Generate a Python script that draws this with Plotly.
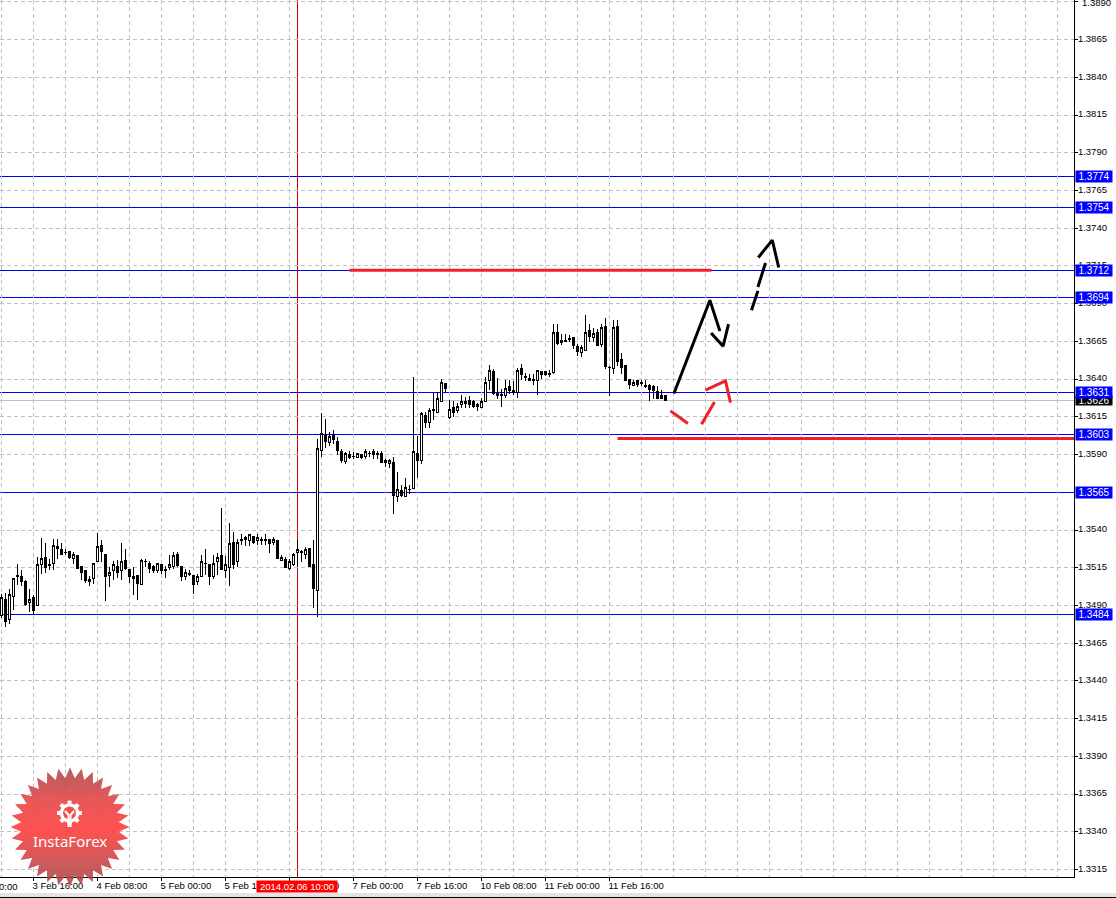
import math
import plotly.graph_objects as go

# EURUSD-style H1 candles, prices in 1e-5 units
opens = [134836,134939,134807,134957,135098,135094,135057,134917,134953,134897,135174,135218,135174,135178,135293,135271,135253,135258,135209,135233,
135160,135134,135057,135079,135191,135300,135240,135096,135129,135160,135129,135200,135140,135079,135101,135037,135193,135178,135160,135129,
135174,135138,135152,135160,135240,135160,135090,135110,135101,135057,135094,135180,135174,135090,135189,135231,135129,135152,135317,135189,
135335,135350,135330,135355,135328,135337,135335,135337,135317,135333,135198,135207,135147,135174,135249,135260,135235,135280,135174,134997,
135925,136029,135978,136029,135989,135923,135857,135901,135890,135879,135901,135885,135910,135921,135910,135907,135863,135839,135848,135620,
135664,135620,135671,135678,135907,135859,136162,136111,136199,136179,136254,136371,136146,136212,136190,136230,136237,136261,136254,136234,
136210,136250,136389,136453,136302,136296,136293,136353,136322,136309,136470,136419,136402,136397,136388,136452,136452,136439,136446,136707,
136654,136658,136669,136678,136616,136576,136592,136722,136673,136709,136631,136748,136479,136470,136751,136530,136490,136397,136358,136393,
136380,136360,136358,136351,136320,136293,136291]
highs = [134975,134984,135012,135079,135178,135138,135072,135012,134968,135222,135350,135311,135211,135344,135344,135315,135277,135258,135255,135233,
135160,135134,135094,135178,135381,135337,135240,135152,135196,135200,135311,135277,135145,135152,135101,135211,135205,135196,135167,135178,
135174,135160,135233,135255,135255,135160,135145,135134,135101,135107,135233,135277,135174,135233,135249,135543,135227,135450,135388,135344,
135372,135359,135370,135355,135377,135355,135377,135337,135355,135337,135233,135222,135211,135249,135333,135271,135288,135280,135337,136002,
136179,136139,136049,136062,136014,135934,135919,135923,135919,135910,135907,135936,135925,135934,135925,135925,135868,135874,135881,135782,
135698,135748,135698,136411,136022,136184,136184,136206,136305,136312,136398,136376,136261,136254,136239,136294,136283,136287,136265,136243,
136272,136416,136497,136464,136405,136335,136397,136397,136388,136477,136499,136441,136433,136437,136459,136452,136455,136459,136768,136768,
136702,136702,136691,136680,136636,136625,136824,136764,136740,136735,136768,136802,136486,136790,136790,136570,136492,136399,136393,136397,
136393,136397,136371,136360,136353,136327,136291]
lows = [134814,134758,134780,134873,135034,135028,134895,134858,134842,134897,135112,135116,135134,135134,135211,135233,135233,135205,135174,135143,
135072,135050,135028,135045,135189,135189,134931,135023,135072,135085,135072,135134,135050,134968,134935,135037,135152,135116,135116,135116,
135107,135085,135138,135145,135152,135063,135068,135094,134975,135034,135090,135101,135034,135079,135101,135134,135085,135030,135145,135152,
135300,135293,135293,135306,135300,135300,135300,135249,135300,135209,135196,135149,135134,135160,135152,135191,135205,135152,134886,134821,
135885,135945,135958,135967,135896,135846,135841,135872,135874,135877,135870,135868,135881,135874,135874,135846,135815,135808,135505,135587,
135620,135620,135642,135669,135748,135841,136078,136078,136128,136179,136254,136316,136139,136150,136177,136210,136210,136210,136210,136190,
136206,136250,136327,136294,136271,136216,136278,136304,136293,136276,136393,136386,136391,136360,136293,136404,136419,136413,136433,136625,
136625,136647,136647,136603,136554,136547,136592,136647,136647,136620,136614,136470,136287,136433,136488,136437,136386,136338,136353,136349,
136353,136344,136256,136271,136267,136267,136256]
closes = [134953,134791,134973,135079,135090,135057,134909,134939,134864,135174,135211,135152,135165,135297,135275,135235,135249,135216,135240,135147,
135116,135068,135072,135178,135293,135258,135090,135118,135169,135116,135193,135145,135090,135094,135045,135200,135189,135147,135134,135178,
135134,135129,135174,135233,135167,135094,135118,135105,135041,135094,135193,135176,135094,135178,135218,135138,135174,135311,135174,135319,
135330,135337,135370,135315,135350,135328,135330,135311,135337,135209,135218,135154,135191,135240,135271,135251,135271,135156,135010,135942,
136040,135985,136022,135998,135925,135863,135907,135879,135885,135907,135879,135921,135905,135899,135899,135846,135846,135859,135627,135669,
135629,135682,135667,135923,135863,136173,136115,136192,136190,136272,136378,136338,136199,136177,136219,136252,136254,136234,136217,136217,
136252,136378,136460,136305,136291,136289,136338,136327,136313,136455,136428,136408,136393,136391,136455,136433,136433,136428,136709,136636,
136645,136651,136662,136625,136585,136609,136709,136684,136704,136625,136744,136486,136475,136742,136514,136475,136391,136366,136380,136366,
136371,136349,136333,136327,136271,136271,136256]
PRICE_UNIT = 1e-5

level_values = [1.3774, 1.3754, 1.3712, 1.3694, 1.3631, 1.3603, 1.3565, 1.3484]
level_labels = ["1.3774", "1.3754", "1.3712", "1.3694", "1.3631", "1.3603", "1.3565", "1.3484"]
bid_value = 1.3626
bid_label = "1.3626"

price_ticks = [1.3890, 1.3865, 1.3840, 1.3815, 1.3790, 1.3765, 1.3740, 1.3715, 1.3690, 1.3665, 1.3640, 1.3615,
               1.3590, 1.3540, 1.3515, 1.3490, 1.3465, 1.3440, 1.3415, 1.3390, 1.3365, 1.3340, 1.3315]
top_price_label = "1.3890"
time_ticks = [8, 24, 40, 56, 72, 88, 104, 120, 136, 152]
time_labels = ["3 Feb 16:00", "4 Feb 08:00", "5 Feb 00:00", "5 Feb 16:00", "6 Feb 08:00", "7 Feb 00:00",
               "7 Feb 16:00", "10 Feb 08:00", "11 Feb 00:00", "11 Feb 16:00"]
crosshair_bar = 74
crosshair_label = "2014.02.06 10:00"
logo_text = "InstaForex"

# hand-drawn marks on the chart: (bar position, price)
red_rule_x = [[87, 177.5], [154, 268.125]]
red_rule_y = [[1.37122, 1.37122], [1.36007, 1.36007]]
black_x = [[168.1, 177.1, 179.6], [177.4, 180.4, 181.75], [187.5, 189.1], [189.1, 191.0], [189.2, 192.7, 194.3]]
black_y = [[1.36305, 1.36923, 1.36718], [1.36706, 1.36618, 1.36764], [1.36857, 1.36985], [1.37011, 1.3717],
           [1.37206, 1.37321, 1.3714]]
red_x = [[167.25, 171.6], [175.0, 178.25], [176.0, 181.0, 182.25]]
red_y = [[1.3619, 1.36106], [1.36101, 1.36249], [1.36327, 1.36388, 1.36245]]

W, H = 1116, 898
PLOT_R, PLOT_B = 1074, 877
FONT = "Liberation Sans"

fig = go.Figure()
xs = list(range(len(opens)))
fig.add_trace(go.Candlestick(
    x=xs,
    open=[v * PRICE_UNIT for v in opens], high=[v * PRICE_UNIT for v in highs],
    low=[v * PRICE_UNIT for v in lows], close=[v * PRICE_UNIT for v in closes],
    increasing=dict(line=dict(color="#000000", width=1), fillcolor="#ffffff"),
    decreasing=dict(line=dict(color="#000000", width=1), fillcolor="#000000"),
    whiskerwidth=0, showlegend=False, hoverinfo="skip",
))
for xv, yv in zip(red_rule_x, red_rule_y):
    fig.add_trace(go.Scatter(x=xv, y=yv, mode="lines", line=dict(color="#ee2028", width=3), showlegend=False, hoverinfo="skip"))
for xv, yv in zip(black_x, black_y):
    fig.add_trace(go.Scatter(x=xv, y=yv, mode="lines", line=dict(color="#000000", width=3), showlegend=False, hoverinfo="skip"))
for xv, yv in zip(red_x, red_y):
    fig.add_trace(go.Scatter(x=xv, y=yv, mode="lines", line=dict(color="#ee2028", width=3), showlegend=False, hoverinfo="skip"))

# logo drawn on a full-window helper axis pair
cx, cy, r_out, r_in, teeth = 70, 827, 59.5, 49, 32
star_x, star_y = [], []
for k in range(teeth * 2 + 1):
    a = math.pi * k / teeth
    r = r_out if k % 2 == 0 else r_in
    star_x.append(cx + r * math.sin(a))
    star_y.append(cy - r * math.cos(a))
fig.add_trace(go.Scatter(
    x=star_x, y=star_y, xaxis="x2", yaxis="y2", mode="lines", fill="toself", line=dict(width=0),
    fillgradient=dict(type="vertical", colorscale=[[0, "rgba(170,60,60,0.85)"], [0.15, "rgba(190,70,70,0.88)"],
                                                   [0.48, "rgba(255,72,72,0.95)"], [0.75, "rgba(225,70,70,0.9)"],
                                                   [1, "rgba(165,55,55,0.8)"]]),
    showlegend=False, hoverinfo="skip",
))
gx, gy = 69.5, 813
gear_x, gear_y = [], []
for k in range(0, 361, 3):
    a = math.radians(k)
    r = 12.5 if math.cos(8 * a) > 0 else 9.8
    gear_x.append(gx + r * math.sin(a))
    gear_y.append(gy - r * math.cos(a))
fig.add_trace(go.Scatter(x=gear_x, y=gear_y, xaxis="x2", yaxis="y2", mode="lines", fill="toself",
                         line=dict(width=0), fillcolor="#ffffff", showlegend=False, hoverinfo="skip"))
hole_x = [gx + 6.5 * math.sin(math.radians(k)) for k in range(0, 361, 10)]
hole_y = [gy - 6.5 * math.cos(math.radians(k)) for k in range(0, 361, 10)]
fig.add_trace(go.Scatter(x=hole_x, y=hole_y, xaxis="x2", yaxis="y2", mode="lines", fill="toself",
                         line=dict(width=0), fillcolor="#f25050", showlegend=False, hoverinfo="skip"))
fig.add_trace(go.Scatter(x=[gx - 4.5, gx - 1, gx - 1], y=[gy - 2, gy + 2, gy + 14], xaxis="x2", yaxis="y2", mode="lines",
                         line=dict(color="#ffffff", width=2), showlegend=False, hoverinfo="skip"))
fig.add_trace(go.Scatter(x=[gx + 4.5, gx + 1, gx + 1], y=[gy - 2, gy + 2, gy + 14], xaxis="x2", yaxis="y2", mode="lines",
                         line=dict(color="#ffffff", width=2), showlegend=False, hoverinfo="skip"))

shapes = []
for v in level_values:
    shapes.append(dict(type="line", xref="paper", x0=0, x1=PLOT_R / W, yref="y", y0=v, y1=v, layer="between",
                       line=dict(color="#0000ff", width=1)))
shapes.append(dict(type="line", xref="paper", x0=0, x1=PLOT_R / W, yref="y", y0=bid_value, y1=bid_value, layer="between",
                   line=dict(color="#c0c0c0", width=1)))
shapes.append(dict(type="line", xref="x", x0=crosshair_bar, x1=crosshair_bar, yref="paper", y0=(H - PLOT_B) / H, y1=1,
                   layer="between", line=dict(color="#cc0000", width=1)))
# window bottom edge
shapes.append(dict(type="rect", xref="x2", yref="y2", x0=0, x1=W, y0=893, y1=897, fillcolor="#e4e4e4", line=dict(width=0), layer="below"))
shapes.append(dict(type="line", xref="x2", yref="y2", x0=0, x1=W, y0=897.5, y1=897.5, line=dict(color="#000000", width=1), layer="below"))

annotations = [dict(xref="x2", yref="y", x=1094, y=bid_value, text=bid_label, showarrow=False, bgcolor="#000000",
                    font=dict(color="#ffffff", size=10, family=FONT), width=36, height=9, borderpad=0)]
for v, t in zip(level_values, level_labels):
    annotations.append(dict(xref="x2", yref="y", x=1094, y=v, text=t, showarrow=False, bgcolor="#0000ff",
                            font=dict(color="#ffffff", size=10, family=FONT), width=36, height=11, borderpad=0))
annotations.append(dict(xref="x2", yref="y2", x=0, y=886, xanchor="left", text="0:00", showarrow=False,
                        font=dict(color="#000000", size=9.5, family=FONT), borderpad=0, xshift=-2))
annotations.append(dict(xref="x2", yref="y2", x=297, y=886.5, text=crosshair_label, showarrow=False, bgcolor="#ff0000",
                        font=dict(color="#ffffff", size=9.5, family=FONT), width=80, height=11, borderpad=0))
annotations.append(dict(xref="x2", yref="y2", x=69.5, y=841, text=logo_text, showarrow=False,
                        font=dict(color="#ffffff", size=15, family="Noto Sans"), borderpad=0))
annotations.append(dict(xref="x2", yref="y2", x=1081, y=2, xanchor="left", text=top_price_label, showarrow=False,
                        font=dict(color="#000000", size=9.5, family=FONT), borderpad=0))

fig.update_layout(
    width=W, height=H, margin=dict(l=0, r=0, t=0, b=0, pad=0), autosize=False,
    paper_bgcolor="#ffffff", plot_bgcolor="rgba(0,0,0,0)",
    showlegend=False, shapes=shapes, annotations=annotations, hovermode=False, boxgap=0.5,
    xaxis=dict(
        domain=[0, PLOT_R / W], range=[-0.375, 268.125], anchor="y", rangeslider=dict(visible=False),
        tickmode="array", tickvals=time_ticks, ticktext=time_labels, ticks="outside", ticklen=3, tickcolor="#000000",
        ticklabelposition="outside right", tickangle=0, ticklabelshift=-2,
        tickfont=dict(family=FONT, size=9.5, color="#000000"),
        showgrid=True, gridcolor="#c0c0c0", griddash="4px,3px", gridwidth=1,
        minor=dict(dtick=8, tick0=0, showgrid=True, gridcolor="#c0c0c0", griddash="4px,3px", gridwidth=1, ticks=""),
        showline=True, linecolor="#000000", linewidth=1, zeroline=False, ticklabeloverflow="allow",
    ),
    yaxis=dict(
        domain=[(H - PLOT_B) / H, 1], range=[1.3865 - (PLOT_B - 39.6) / 15091, 1.3865 + 39.6 / 15091], anchor="x", side="right",
        tickmode="array", tickvals=price_ticks, ticktext=[""] + [f"{v:.4f}" for v in price_ticks[1:]],
        ticks="outside", ticklen=3, tickcolor="#000000", ticklabelstandoff=-2, ticklabelshift=-1,
        tickfont=dict(family=FONT, size=9.5, color="#000000"),
        showgrid=True, gridcolor="#c0c0c0", griddash="4px,3px", gridwidth=1,
        showline=True, linecolor="#000000", linewidth=1, zeroline=False,
    ),
    xaxis2=dict(domain=[0, 1], range=[0, W], anchor="y2", visible=False, fixedrange=True),
    yaxis2=dict(domain=[0, 1], range=[H, 0], anchor="x2", visible=False, fixedrange=True),
)

fig.write_html("out.html", config=dict(displayModeBar=False),
               post_script="document.body.style.margin='0';document.body.style.overflow='hidden';"
                           "var s=document.createElement('style');"
                           "s.textContent='.shapelayer path,.boxlayer path{shape-rendering:crispEdges}';"
                           "document.head.appendChild(s);")
